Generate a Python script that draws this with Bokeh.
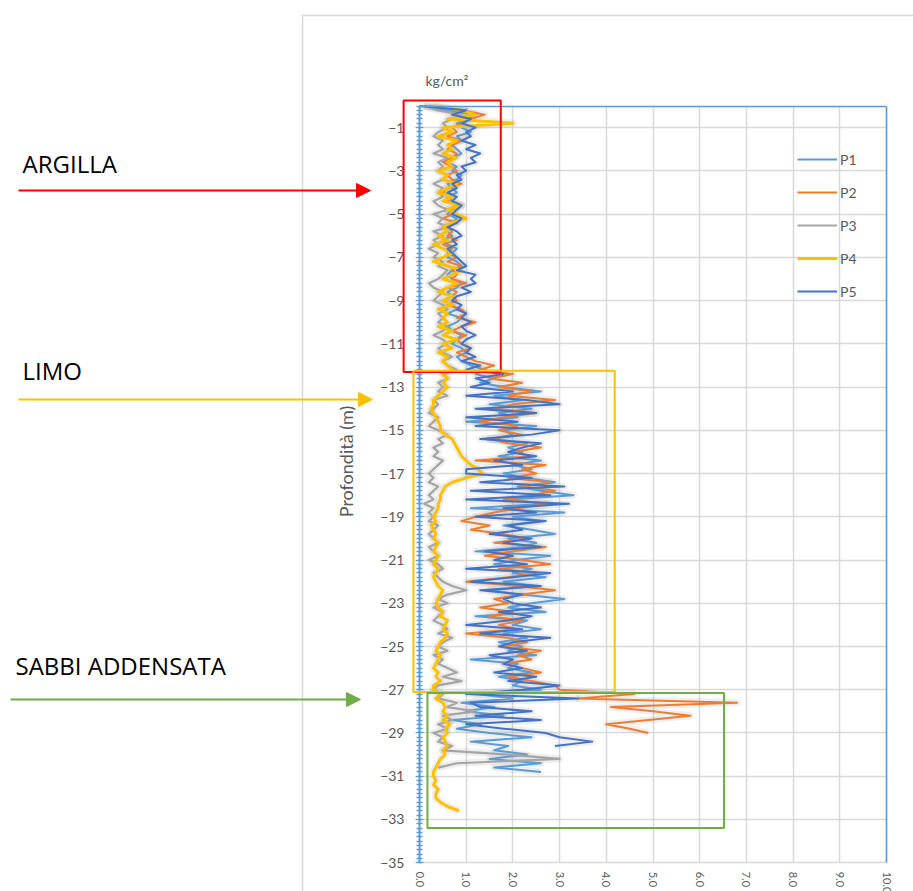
import math

from bokeh.plotting import figure
from bokeh.models import (Range1d, LinearAxis, FixedTicker, Grid, Legend, LegendItem,
                          Label, Arrow, NormalHead, BoxAnnotation, PrintfTickFormatter)
from bokeh.embed import file_html
from bokeh.resources import INLINE

# Penetrometer readings (kg/cm²), one reading every STEP metres from ground level
STEP = 0.2

P1 = [0.1, 0.6, 1.2, 1.0, 0.8,  0.9, 1.1, 0.8, 0.9, 0.7,  0.8, 0.9, 0.7, 0.6, 0.8,
      0.7, 0.9, 0.8, 0.6, 0.7,  0.8, 0.6, 0.7, 0.9, 0.7,  0.6, 0.8, 0.7, 0.5, 0.6,
      0.7, 0.5, 0.6, 0.8, 0.7,  0.6, 0.8, 0.9, 0.7, 0.6,  0.7, 0.9, 0.8, 0.6, 0.7,
      0.5, 0.7, 0.8, 0.6, 0.9,  0.8, 0.6, 0.7, 0.9, 0.8,  0.7, 0.9, 1.0, 0.8, 0.9,
      1.1, 1.4, 1.2, 1.6, 1.3,  1.8, 2.6, 1.6, 2.2, 1.5,  2.4, 1.7, 2.1, 1.0, 2.5,
      1.8, 2.0, 1.5, 2.3, 1.9,  2.2, 1.7, 2.6, 2.0, 2.4,  1.8, 2.3, 2.9, 2.1, 2.6,
      3.3, 1.9, 2.7, 1.1, 3.1,  2.0, 2.6, 1.8, 2.4, 2.9,  1.9, 2.5, 2.2, 1.2, 2.8,
      2.1, 1.6, 2.4, 2.0, 2.7,  1.8, 2.5, 1.5, 2.2, 3.1,  2.4, 1.9, 2.7, 1.2, 2.3,
      2.0, 2.6, 1.8, 2.3, 1.7,  2.2, 1.9, 2.5, 1.1, 2.1,  1.9, 2.4, 1.7, 2.2, 2.0,
      2.6, 1.2, 2.0, 0.9, 1.6,  1.0, 1.8, 0.7, 1.3, 0.8,  1.5, 2.4, 1.1, 1.9, 1.6,
      2.3, 1.5, 2.6, 1.6, 2.6]

P2 = [0.2, 0.9, 1.4, 1.1, 0.9,  0.7, 0.8, 0.6, 0.9, 0.7,  0.6, 0.8, 0.7, 0.5, 0.7,
      0.8, 0.6, 0.7, 0.9, 0.6,  0.5, 0.7, 0.6, 0.8, 0.6,  0.7, 0.5, 0.8, 0.6, 0.7,
      0.6, 0.8, 0.5, 0.7, 0.6,  0.8, 0.6, 0.9, 0.7, 0.8,  0.7, 1.0, 0.6, 0.8, 0.7,
      0.8, 0.6, 0.9, 1.0, 0.8,  1.2, 0.9, 0.7, 1.0, 0.8,  0.9, 1.1, 0.8, 1.0, 1.2,
      1.6, 1.3, 2.0, 1.5, 2.2,  1.7, 2.4, 1.9, 2.9, 2.0,  1.6, 2.5, 1.8, 1.3, 2.1,
      1.7, 2.2, 1.5, 1.9, 2.6,  2.0, 2.4, 1.2, 2.7, 2.2,  2.5, 1.9, 2.8, 2.2, 2.9,
      2.4, 1.8, 2.8, 2.1, 1.6,  1.2, 0.9, 1.5, 1.1, 1.8,  2.3, 1.6, 2.7, 2.0, 1.4,
      2.2, 2.8, 1.7, 2.5, 1.9,  1.0, 2.1, 2.9, 2.2, 1.6,  1.9, 1.3, 2.0, 1.5, 2.2,
      1.7, 2.1, 1.0, 1.9, 2.3,  1.8, 2.6, 2.1, 2.4, 1.8,  2.2, 2.6, 1.9, 2.4, 2.9,
      3.0, 4.6, 3.4, 6.8, 4.1,  5.0, 5.8, 4.9, 4.0, 4.5,  4.9]

P3 = [0.1, 0.4, 0.9, 0.7, 0.5,  0.6, 0.4, 0.3, 0.5, 0.4,  0.5, 0.3, 0.6, 0.4, 0.5,
      0.4, 0.6, 0.5, 0.3, 0.5,  0.4, 0.5, 0.3, 0.4, 0.6,  0.3, 0.5, 0.4, 0.6, 0.3,
      0.5, 0.3, 0.4, 0.2, 0.4,  0.3, 0.5, 0.4, 0.6, 0.5,  0.4, 0.2, 0.3, 0.5, 0.4,
      0.3, 0.5, 0.6, 0.4, 0.5,  0.4, 0.6, 0.5, 0.3, 0.5,  0.6, 0.4, 0.5, 0.7, 0.5,
      0.6, 0.8, 0.5, 0.6, 0.4,  0.5, 0.4, 0.6, 0.3, 0.4,  0.3, 0.2, 0.4, 0.3, 0.2,
      0.4, 0.6, 0.4, 0.5, 0.3,  0.4, 0.3, 0.5, 0.4, 0.3,  0.2, 0.3, 0.2, 0.4, 0.3,
      0.2, 0.3, 0.1, 0.3, 0.2,  0.3, 0.2, 0.4, 0.3, 0.2,  0.3, 0.4, 0.2, 0.3, 0.4,
      0.2, 0.4, 0.5, 0.3, 0.4,  0.5, 0.7, 1.0, 0.6, 0.4,  0.6, 0.3, 0.5, 0.4, 0.3,
      0.5, 0.6, 0.4, 0.7, 0.5,  0.4, 0.6, 0.3, 0.5, 0.4,  0.6, 0.8, 0.5, 0.9, 0.4,
      0.3, 0.5, 0.4, 0.8, 0.6,  1.2, 0.5, 0.7, 0.4, 0.6,  0.3, 0.5, 0.4, 0.7, 0.5,
      1.9, 3.0, 0.8, 0.4]

P4 = [0.3, 0.9, 1.2, 0.6, 2.0,  0.5, 0.7, 0.4, 0.8, 0.6,  0.7, 0.5, 0.8, 0.6, 0.7,
      0.4, 0.6, 0.5, 0.8, 0.6,  0.4, 0.7, 0.5, 0.9, 0.6,  0.8, 1.0, 0.7, 0.5, 0.6,
      0.4, 0.6, 0.3, 0.5, 0.7,  0.5, 0.3, 0.6, 0.9, 0.7,  0.5, 0.8, 0.6, 0.4, 0.7,
      0.5, 0.7, 0.4, 0.6, 0.5,  0.6, 0.4, 0.7, 0.5, 0.8,  0.5, 0.7, 0.4, 0.6, 0.5,
      0.6, 0.7, 0.5, 0.6, 0.5,  0.6, 0.5, 0.4, 0.3, 0.3,  0.25, 0.3, 0.35, 0.4, 0.45,
      0.45, 0.55, 0.7, 0.75, 0.8,  0.85, 0.9, 1.0, 1.1, 1.25,  1.35, 1.0, 0.7, 0.55, 0.5,
      0.45, 0.45, 0.4, 0.4, 0.35,  0.3, 0.35, 0.25, 0.3, 0.35,  0.3, 0.4, 0.35, 0.3, 0.4,
      0.35, 0.3, 0.4, 0.35, 0.3,  0.35, 0.4, 0.5, 0.45, 0.4,  0.35, 0.4, 0.5, 0.45, 0.6,
      0.55, 0.5, 0.6, 0.55, 0.45,  0.4, 0.35, 0.45, 0.4, 0.35,  0.3, 0.4, 0.35, 0.45, 0.3,
      0.3, 0.45, 0.35, 0.5, 0.55,  0.5, 0.6, 0.5, 0.65, 0.55,  0.6, 0.5, 0.55, 0.6, 0.5,
      0.55, 0.45, 0.4, 0.35, 0.3,  0.3, 0.35, 0.3, 0.4, 0.35,  0.35, 0.45, 0.6, 0.85]

P5 = [0.0, 1.0, 0.7, 1.1, 0.9,  1.2, 1.0, 1.1, 0.9, 1.2,  1.0, 1.3, 1.1, 1.2, 0.9,
      1.0, 0.8, 0.9, 0.7, 0.8,  0.6, 0.8, 0.7, 0.9, 0.8,  0.7, 0.9, 0.8, 0.6, 0.8,
      0.9, 0.7, 0.8, 0.6, 0.7,  0.8, 0.9, 1.0, 0.8, 1.2,  1.1, 1.2, 0.9, 1.1, 0.8,
      0.7, 0.9, 0.8, 1.0, 0.9,  1.1, 0.9, 1.0, 1.2, 1.0,  0.9, 1.1, 1.0, 1.2, 0.9,
      1.3, 1.0, 1.8, 1.2, 1.5,  1.1, 2.0, 1.0, 2.3, 3.0,  1.2, 2.5, 1.0, 2.1, 1.2,
      3.0, 2.4, 1.3, 2.6, 2.2,  1.9, 2.5, 1.6, 2.2, 1.0,  1.0, 2.4, 1.3, 3.1, 1.1,
      2.8, 1.0, 3.2, 1.8, 2.5,  1.2, 2.7, 1.9, 2.2, 1.5,  2.4, 1.8, 2.6, 1.4, 2.0,
      1.6, 2.3, 1.0, 2.8, 2.0,  1.1, 2.6, 1.3, 2.2, 1.8,  2.0, 2.6, 1.7, 2.4, 1.9,
      1.0, 2.2, 1.3, 2.8, 2.0,  1.7, 2.3, 1.5, 2.0, 1.8,  2.2, 1.6, 2.5, 1.9, 3.0,
      2.2, 1.0, 3.4, 1.1, 1.3,  2.4, 1.2, 2.6, 1.0, 1.8,  2.7, 3.0, 3.7, 2.9]

SERIES = ["P1", "P2", "P3", "P4", "P5"]
VALUES = [P1, P2, P3, P4, P5]
COLORS = ["#5B9BD5", "#ED7D31", "#A5A5A5", "#FFC000", "#4472C4"]
WIDTHS = [2, 2, 2.2, 3, 2]

X_TICKS = [0, 1, 2, 3, 4, 5, 6, 7, 8, 9, 10]
Y_TICKS = [-1, -3, -5, -7, -9, -11, -13, -15, -17, -19, -21, -23, -25, -27, -29, -31, -33, -35]

AXIS_BLUE = "#5B9BD5"
GRID_GRAY = "#D9D9D9"
TEXT_GRAY = "#595959"

W, H = 913, 891

p = figure(width=W, height=H, output_backend="svg", toolbar_location=None,
           x_range=Range1d(-8.972, 10.578), y_range=Range1d(-36.332, 4.880),
           x_axis_location=None, y_axis_location=None, min_border=0)
p.outline_line_color = None
p.background_fill_color = "white"
p.border_fill_color = "white"
p.grid.visible = False

# grid lines confined to the plot area
xgrid = Grid(dimension=0, ticker=FixedTicker(ticks=X_TICKS[1:]), cross_bounds=(-35, 0),
             grid_line_color=GRID_GRAY, grid_line_width=1.5)
ygrid = Grid(dimension=1, ticker=FixedTicker(ticks=Y_TICKS), cross_bounds=(0, 10),
             grid_line_color=GRID_GRAY, grid_line_width=1.5)
p.add_layout(xgrid, "center")
p.add_layout(ygrid, "center")

# depth axis at x = 0
minor = [-round(i * STEP, 1) for i in range(0, 176)]
yaxis = LinearAxis(fixed_location=0, bounds=(-35, 0),
                   ticker=FixedTicker(ticks=Y_TICKS, minor_ticks=minor),
                   axis_line_color=AXIS_BLUE, axis_line_width=2,
                   major_tick_line_color=AXIS_BLUE, major_tick_in=4, major_tick_out=4,
                   minor_tick_line_color=AXIS_BLUE, minor_tick_in=3, minor_tick_out=3,
                   minor_tick_line_width=1.5,
                   major_label_text_color=TEXT_GRAY, major_label_text_font="Lato",
                   major_label_text_font_size="14px", major_label_standoff=11)
p.add_layout(yaxis, "left")

# value axis along the bottom of the plot
xaxis = LinearAxis(fixed_location=-35, bounds=(0, 10),
                   ticker=FixedTicker(ticks=X_TICKS),
                   formatter=PrintfTickFormatter(format="%.1f"),
                   axis_line_color=None, major_tick_line_color=None,
                   minor_tick_line_color=None, major_tick_out=0, major_tick_in=0,
                   major_label_orientation=-math.pi / 2, major_label_standoff=9,
                   major_label_text_color=TEXT_GRAY, major_label_text_font="Lato",
                   major_label_text_font_size="11px")
p.add_layout(xaxis, "below")

# blue frame on the top and right of the plot area
top_edge = LinearAxis(fixed_location=0, bounds=(0, 10), ticker=FixedTicker(ticks=[]),
                      axis_line_color=AXIS_BLUE, axis_line_width=1.5,
                      major_tick_line_color=None, minor_tick_line_color=None,
                      major_label_text_font_size="0px")
right_edge = LinearAxis(fixed_location=10, bounds=(-35, 0), ticker=FixedTicker(ticks=[]),
                        axis_line_color=AXIS_BLUE, axis_line_width=1.5,
                        major_tick_line_color=None, minor_tick_line_color=None,
                        major_label_text_font_size="0px")
p.add_layout(top_edge, "above")
p.add_layout(right_edge, "right")

# one trace per penetrometer test, each with a soft grey shadow underneath
depths = [[-round(i * STEP, 1) for i in range(len(v))] for v in VALUES]
for vals, depth, lw in zip(VALUES, depths, WIDTHS):
    p.line(vals, depth, line_color="#808080", line_alpha=0.13, line_width=lw + 5,
           line_join="round")

items = []
for name, vals, depth, color, lw in zip(SERIES, VALUES, depths, COLORS, WIDTHS):
    r = p.line(vals, depth, line_color=color, line_width=lw, line_join="round")
    items.append(LegendItem(label=name, renderers=[r]))

legend = Legend(items=items, location=(797, 590), orientation="vertical",
                glyph_width=40, glyph_height=20, label_height=20, spacing=13,
                padding=0, margin=0, label_standoff=3,
                label_text_font="Lato", label_text_font_size="14px",
                label_text_color=TEXT_GRAY, background_fill_alpha=0,
                border_line_color=None)
p.add_layout(legend)

# outer chart-area border
p.add_layout(BoxAnnotation(left=302, right=W + 50, top=H - 15, bottom=-50,
                           left_units="screen", right_units="screen",
                           top_units="screen", bottom_units="screen",
                           fill_alpha=0, line_color=GRID_GRAY, line_alpha=1,
                           line_width=1.5))

# units and depth title
p.add_layout(Label(x=425, y=H - 80, x_units="screen", y_units="screen", text="kg/cm²",
                   text_font="Lato", text_font_size="14px", text_color=TEXT_GRAY,
                   text_baseline="middle"))
p.add_layout(Label(x=345, y=H - 461, x_units="screen", y_units="screen",
                   text="Profondità (m)", angle=math.pi / 2, text_align="center",
                   text_baseline="middle", text_font="Lato", text_font_size="18px",
                   text_color=TEXT_GRAY))

# soil layers: frame, caption (left, centre line) and pointer (y, start, end)
LAYERS = [
    ("ARGILLA", "#FF0000", (-0.34, 1.74, 0.25, -12.3), 22, 163, 190, 18, 370),
    ("LIMO", "#FFC000", (-0.13, 4.18, -12.25, -27.1), 22, 370, 399, 18, 372),
    ("SABBI ADDENSATA", "#70AD47", (0.17, 6.52, -27.15, -33.4), 15, 665, 699, 10, 360),
]
for text, color, (l, r_, t, b), tx, ty, ay, ax0, ax1 in LAYERS:
    p.add_layout(BoxAnnotation(left=l, right=r_, top=t, bottom=b, fill_alpha=0,
                               line_color=color, line_alpha=1, line_width=2))
    p.add_layout(Label(x=tx, y=H - ty, x_units="screen", y_units="screen", text=text,
                       text_font="Open Sans", text_font_size="24px", text_color="#000000",
                       text_baseline="middle"))
    p.add_layout(Arrow(x_start=ax0, y_start=H - ay, x_end=ax1, y_end=H - ay,
                       start_units="screen", end_units="screen",
                       line_color=color, line_width=2,
                       end=NormalHead(size=14, fill_color=color, line_color=color)))

open("out.html", "w").write(file_html(p, INLINE))
